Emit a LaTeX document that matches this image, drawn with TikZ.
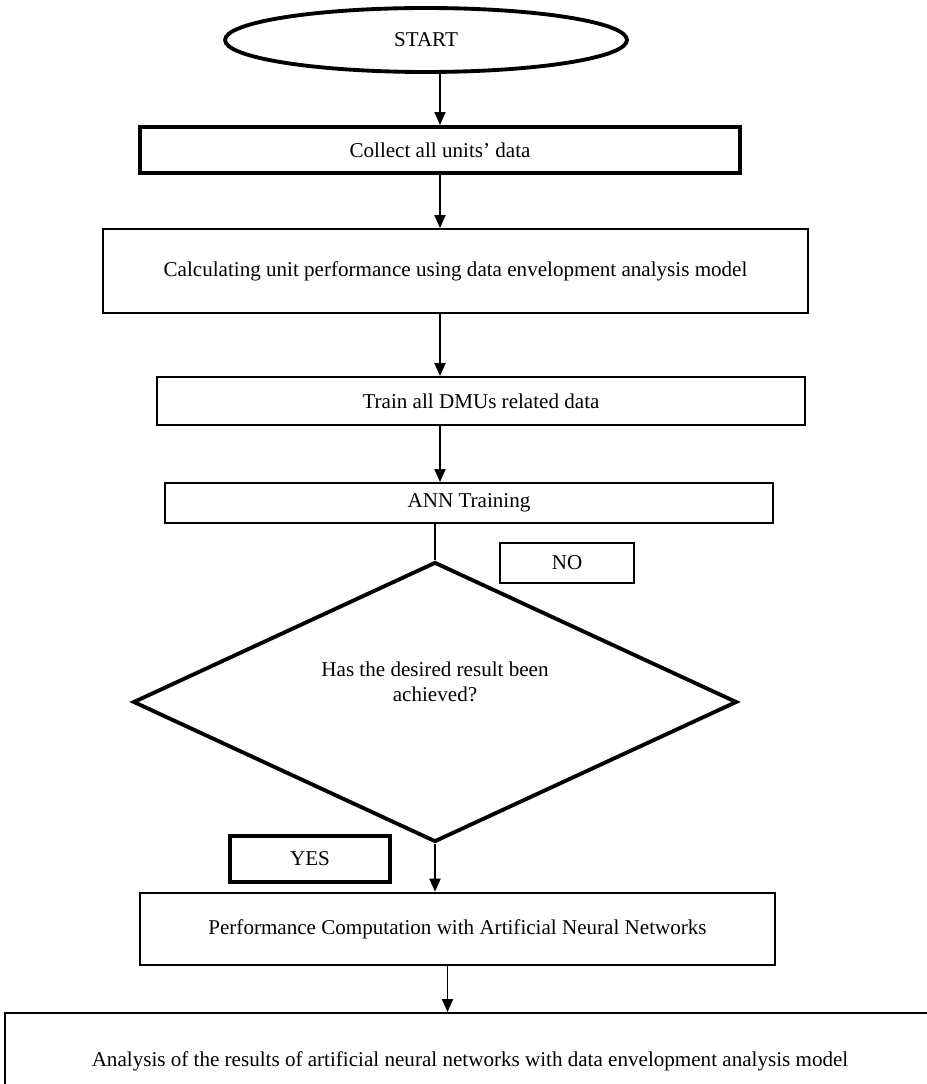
\documentclass[tikz,border=0pt]{standalone}
\usepackage{fontspec}
\setmainfont{Liberation Serif}
\usetikzlibrary{shapes.geometric,arrows.meta}
\tikzset{
  thinbox/.style={draw, line width=1.1pt, inner sep=0pt, align=center},
  thickbox/.style={draw, line width=2.2pt, inner sep=0pt, align=center},
  flow/.style={line width=1.1pt, -{Triangle[length=0.26cm,width=0.22cm]}}
}
\begin{document}
\begin{tikzpicture}[x=0.02cm, y=-0.02cm, font=\fontsize{12}{14}\selectfont]
    \useasboundingbox (0,0) rectangle (926,1084);
    % boxes of the chart
    \node[thickbox, ellipse, minimum width=8.04cm, minimum height=1.28cm] (start) at (426,40) {START};
    \node[thickbox, minimum width=12cm, minimum height=0.92cm] (collect) at (440,150) {Collect all units' data};
    \node[thinbox, minimum width=14.1cm, minimum height=1.68cm] (calc) at (455.5,271) {Calculating unit performance using data envelopment analysis model};
    \node[thinbox, minimum width=12.96cm, minimum height=0.96cm] (train) at (481,401) {Train all DMUs related data};
    \node[thinbox, minimum width=12.16cm, minimum height=0.8cm] (ann) at (469,503) {ANN Training};
    \node[thinbox, minimum width=2.68cm, minimum height=0.8cm] (no) at (567,563) {NO};
    \node[thickbox, diamond, minimum width=12.08cm, minimum height=5.6cm] (check) at (435,702) {};
    \node[align=center] (checktext) at ([yshift=0.4cm]check.center) {Has the desired result been\\achieved?};
    \node[thickbox, minimum width=3.2cm, minimum height=0.92cm] (yes) at (310,859) {YES};
    \node[thinbox, line width=1.5pt, minimum width=12.7cm, minimum height=1.44cm] (perf) at (457.5,929) {Performance Computation with Artificial Neural Networks};
    \node[thinbox, minimum width=18.6cm, minimum height=1.92cm] (analysis) at (470,1061) {Analysis of the results of artificial neural networks with data envelopment analysis model};
    % connectors
    \draw[flow] (collect.north |- start.south) -- (collect.north);
    \draw[flow] (collect.south) -- (collect.south |- calc.north);
    \draw[flow] (collect.south |- calc.south) -- (collect.south |- train.north);
    \draw[flow] (collect.south |- train.south) -- (collect.south |- ann.north);
    \draw[line width=1.1pt] (check.north |- ann.south) -- (check.north);
    \draw[flow] (check.south) -- (check.south |- perf.north);
    \draw[flow] ([xshift=-0.2cm]perf.south) -- ([xshift=-0.2cm]perf.south |- analysis.north);
  \end{tikzpicture}
\end{document}
